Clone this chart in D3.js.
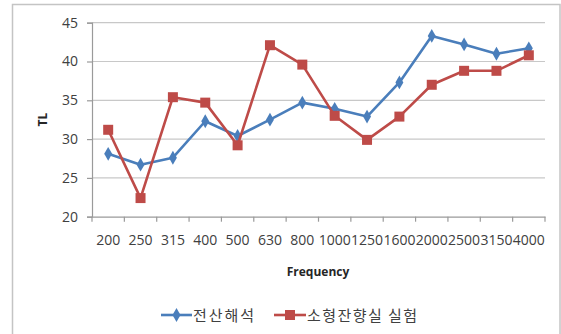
<!DOCTYPE html>
<html>
<head>
<meta charset="utf-8">
<script src="https://cdn.jsdelivr.net/npm/d3@7"></script>
<style>
  html, body { margin: 0; padding: 0; background: #fff; }
  svg { display: block; }
</style>
</head>
<body>
<svg id="chart" width="561" height="334"></svg>
<script>
// Frequency bands (Hz) along the x axis
const categories = ["200", "250", "315", "400", "500", "630", "800", "1000", "1250", "1600", "2000", "2500", "3150", "4000"];
// Transmission loss: numerical analysis
const analysisTL = [28.1, 26.7, 27.6, 32.3, 30.4, 32.5, 34.7, 33.9, 32.9, 37.3, 43.3, 42.2, 41.0, 41.7];
// Transmission loss: small reverberation room test
const experimentTL = [31.2, 22.4, 35.4, 34.7, 29.2, 42.1, 39.6, 33.0, 29.9, 32.9, 37.0, 38.8, 38.8, 40.8];
const yTicks = [20, 25, 30, 35, 40, 45];
const seriesNames = ["전산해석", "소형잔향실 실험"];

const svg = d3.select("#chart");
const tickFont = "'Open Sans', 'Liberation Sans', sans-serif";
const koFont = "'Noto Sans CJK KR', sans-serif";

// outer chart frame
svg.append("rect")
  .attr("x", 12.5).attr("y", 4.5)
  .attr("width", 547.5).attr("height", 335)
  .attr("fill", "#fff").attr("stroke", "#c4c4c4").attr("stroke-width", 1.5);

const plot = { left: 92, right: 545, top: 22.7, bottom: 216.7 };

const x = d3.scaleBand().domain(categories).range([plot.left, plot.right]);
const y = d3.scaleLinear().domain([20, 45]).range([plot.bottom, plot.top]);

// horizontal gridlines
svg.append("g")
  .selectAll("line")
  .data(yTicks.slice(1))
  .join("line")
  .attr("x1", plot.left).attr("x2", plot.right)
  .attr("y1", d => y(d)).attr("y2", d => y(d))
  .attr("stroke", "#c8c8c8").attr("stroke-width", 1.2);

// y axis
const yAxis = svg.append("g")
  .attr("transform", `translate(${plot.left},0)`)
  .call(d3.axisLeft(y).tickValues(yTicks).tickSize(5).tickPadding(9));
yAxis.select(".domain").attr("stroke", "#9a9a9a").attr("stroke-width", 1.2);
yAxis.selectAll(".tick line").attr("stroke", "#9a9a9a").attr("stroke-width", 1.2);
yAxis.selectAll("text")
  .attr("font-family", tickFont).attr("font-size", 14).attr("fill", "#404040");

// x axis: tick marks at category boundaries
const xAxis = svg.append("g")
  .attr("transform", `translate(0,${plot.bottom})`)
  .call(d3.axisBottom(x).tickSize(0).tickPadding(18.5));
xAxis.select(".domain").attr("stroke", "#9a9a9a").attr("stroke-width", 1.2);
xAxis.selectAll("text")
  .attr("font-family", tickFont).attr("font-size", 14).attr("fill", "#404040");
xAxis.selectAll(".boundary")
  .data(d3.range(categories.length + 1))
  .join("line")
  .attr("class", "boundary")
  .attr("x1", i => plot.left + i * x.step())
  .attr("x2", i => plot.left + i * x.step())
  .attr("y1", 0).attr("y2", 5)
  .attr("stroke", "#9a9a9a").attr("stroke-width", 1.2);

// axis titles
svg.append("text")
  .attr("x", 318).attr("y", 276)
  .attr("text-anchor", "middle")
  .attr("font-family", tickFont).attr("font-weight", "bold").attr("font-size", 12)
  .attr("fill", "#262626")
  .text("Frequency");
svg.append("text")
  .attr("transform", `translate(47,${(plot.top + plot.bottom) / 2}) rotate(-90)`)
  .attr("text-anchor", "middle")
  .attr("font-family", tickFont).attr("font-weight", "bold").attr("font-size", 12)
  .attr("fill", "#262626")
  .text("TL");

const colors = ["#4a7ebb", "#be4b48"];
const cx = c => x(c) + x.bandwidth() / 2;
const line = d3.line().x(d => cx(d.c)).y(d => y(d.v));

const diamond = d3.symbol().type(d3.symbolDiamond).size(55);
const square = d3.symbol().type(d3.symbolSquare).size(100);

function drawSeries(values, color, symbol) {
  const pts = categories.map((c, i) => ({ c, v: values[i] }));
  svg.append("path")
    .datum(pts)
    .attr("d", line)
    .attr("fill", "none").attr("stroke", color)
    .attr("stroke-width", 2.6).attr("stroke-linejoin", "round");
  svg.append("g")
    .selectAll("path")
    .data(pts)
    .join("path")
    .attr("transform", d => `translate(${cx(d.c)},${y(d.v)})`)
    .attr("d", symbol)
    .attr("fill", color);
}

drawSeries(analysisTL, colors[0], diamond);
drawSeries(experimentTL, colors[1], square);

// legend
const legendItems = [
  { name: seriesNames[0], color: colors[0], symbol: diamond, x0: 161, x1: 192, tx: 193, tw: 61 },
  { name: seriesNames[1], color: colors[1], symbol: square, x0: 274, x1: 306, tx: 307, tw: 110 }
];
const legendY = 315;
const lg = svg.append("g");
legendItems.forEach(it => {
  lg.append("line")
    .attr("x1", it.x0).attr("x2", it.x1)
    .attr("y1", legendY).attr("y2", legendY)
    .attr("stroke", it.color).attr("stroke-width", 2.6);
  lg.append("path")
    .attr("transform", `translate(${(it.x0 + it.x1) / 2},${legendY})`)
    .attr("d", it.symbol)
    .attr("fill", it.color);
  lg.append("text")
    .attr("x", it.tx).attr("y", legendY + 6)
    .attr("font-family", koFont).attr("font-size", 15)
    .attr("fill", "#404040")
    .attr("textLength", it.tw).attr("lengthAdjust", "spacing")
    .text(it.name);
});
</script>
</body>
</html>
